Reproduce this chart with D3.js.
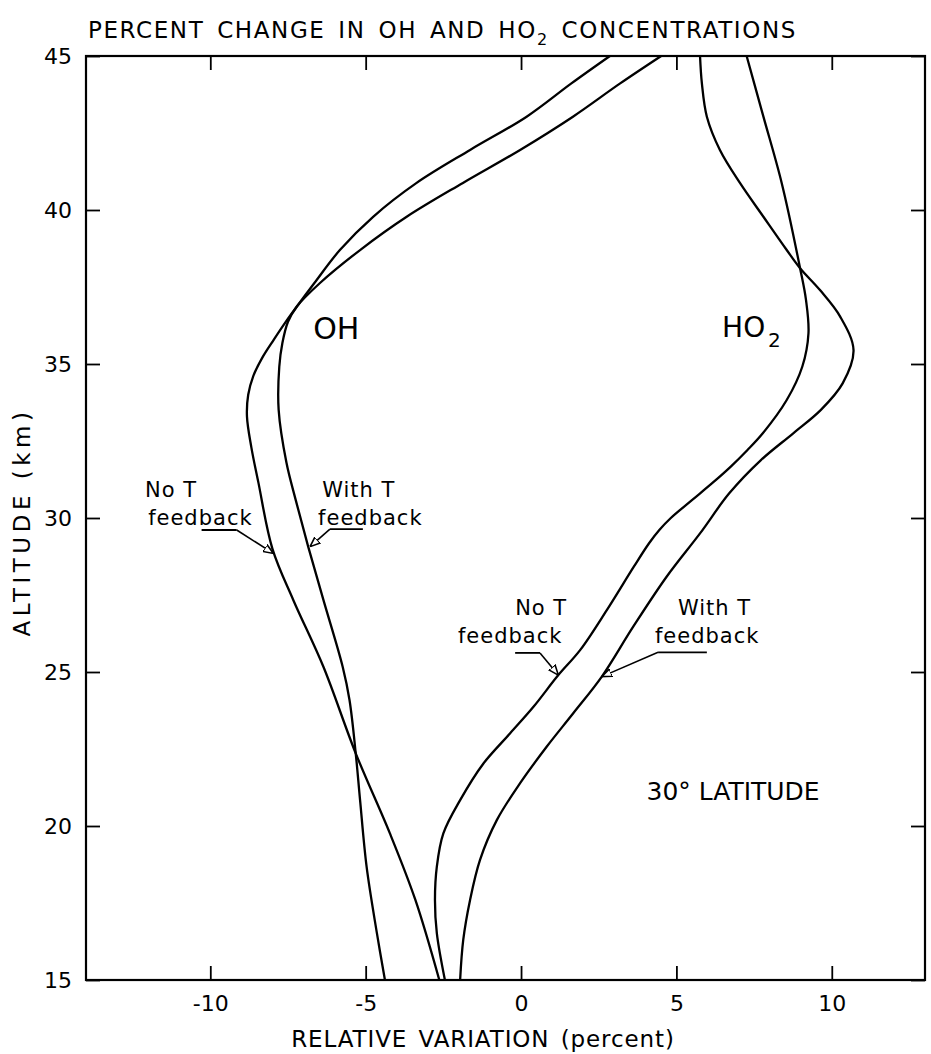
<!DOCTYPE html>
<html>
<head>
<meta charset="utf-8">
<script src="https://cdn.jsdelivr.net/npm/d3@7"></script>
<style>
  body { margin: 0; background: #fff; }
  text { font-family: "DejaVu Sans", sans-serif; fill: #000; }
</style>
</head>
<body>
<script>
// tick values
var altTicks = [15, 20, 25, 30, 35, 40, 45];
var varTicks = [-10, -5, 0, 5, 10];

// [altitude km, relative variation %]
var ohNoT = [[15, -2.63], [17.6, -3.40], [19.76, -4.22], [22.36, -5.32], [25.17, -6.36],
  [27.34, -7.33], [29.0, -8.00], [31.14, -8.45], [32.3, -8.68], [33.3, -8.82],
  [34.0, -8.78], [34.6, -8.62], [35.2, -8.33], [35.8, -7.95], [36.4, -7.55],
  [36.86, -7.22], [37.63, -6.65], [38.70, -5.83], [39.78, -4.76], [40.88, -3.36],
  [41.95, -1.64], [43.03, 0.18], [44.11, 1.62], [45, 2.86]];

var ohWithT = [[15, -4.38], [16.53, -4.64], [18.68, -4.97], [20.84, -5.18], [22.36, -5.32],
  [24.09, -5.52], [25.17, -5.74], [27.34, -6.36], [29.07, -6.85], [30.58, -7.25],
  [31.8, -7.55], [33.51, -7.80], [34.91, -7.78], [35.68, -7.68], [36.37, -7.50],
  [36.86, -7.22], [37.63, -6.47], [38.70, -5.18], [39.78, -3.68], [40.88, -1.87],
  [41.95, -0.03], [43.03, 1.67], [44.11, 3.19], [45, 4.51]];

var ho2NoT = [[15, -2.45], [16.52, -2.71], [17.6, -2.77], [18.68, -2.71], [19.76, -2.50],
  [20.84, -1.96], [22.03, -1.21], [23.01, -0.35], [23.87, 0.40], [24.9, 1.20],
  [25.71, 1.90], [27.01, 2.76], [28.42, 3.63], [29.18, 4.12], [29.61, 4.45],
  [30.0, 4.82], [30.58, 5.50], [31.13, 6.15], [31.67, 6.75], [32.2, 7.28],
  [32.75, 7.78], [33.83, 8.55], [34.91, 9.05], [36.0, 9.25], [37.08, 9.17],
  [38.11, 8.98], [40.87, 8.39], [43.03, 7.80], [45, 7.26]];

var ho2WithT = [[15, -1.96], [16.3, -1.86], [17.6, -1.64], [18.9, -1.32], [20.19, -0.78],
  [21.39, -0.03], [22.58, 0.83], [23.66, 1.68], [24.85, 2.60], [26.47, 3.61],
  [28.1, 4.69], [29.5, 5.76], [30.8, 6.70], [31.88, 7.72], [32.75, 8.76],
  [33.51, 9.65], [34.37, 10.35], [35.45, 10.70], [36.54, 10.27], [37.40, 9.62],
  [38.11, 8.98], [38.70, 8.55], [39.78, 7.80], [40.87, 7.05], [41.95, 6.40],
  [43.03, 5.98], [44.11, 5.82], [45, 5.76]];

var WIDTH = 931, HEIGHT = 1054;
var LEFT = 86, RIGHT = 925, TOP = 56, BOTTOM = 980;

var xScale = d3.scaleLinear().domain([-14, 13]).range([LEFT, RIGHT]);
var yScale = d3.scaleLinear().domain([15, 45]).range([BOTTOM, TOP]);

var svg = d3.select("body").append("svg")
  .attr("width", WIDTH)
  .attr("height", HEIGHT);

// open arrow head for the labels
svg.append("defs").append("marker")
  .attr("id", "arr")
  .attr("viewBox", "0 0 10 10")
  .attr("refX", 10).attr("refY", 5)
  .attr("markerWidth", 10).attr("markerHeight", 10)
  .attr("markerUnits", "userSpaceOnUse")
  .attr("orient", "auto")
  .append("path")
  .attr("d", "M0,1 L10,5 L0,9 Z")
  .attr("fill", "#fff")
  .attr("stroke", "#000")
  .attr("stroke-width", 1.6);

// title
var title = svg.append("text")
  .attr("x", 88).attr("y", 38)
  .attr("font-size", 23)
  .attr("letter-spacing", 1.6)
  .attr("word-spacing", 4);
title.append("tspan").text("PERCENT CHANGE IN OH AND HO");
title.append("tspan").attr("dy", 7).attr("font-size", 16).text("2");
title.append("tspan").attr("dy", -7).text(" CONCENTRATIONS");

// axes, ticks pointing inward
function axisStyle(g) {
  g.select(".domain").remove();
  g.selectAll(".tick line").attr("stroke", "#000").attr("stroke-width", 1.8);
  g.selectAll(".tick text").attr("font-size", 22).attr("font-family", "DejaVu Sans, sans-serif");
}

svg.append("g")
  .attr("transform", `translate(${LEFT},0)`)
  .call(d3.axisLeft(yScale).tickValues(altTicks).tickSize(-14).tickPadding(14).tickFormat(d => d))
  .call(axisStyle);

svg.append("g")
  .attr("transform", `translate(${RIGHT},0)`)
  .call(d3.axisRight(yScale).tickValues(altTicks).tickSize(-14).tickFormat(""))
  .call(axisStyle);

svg.append("g")
  .attr("transform", `translate(0,${BOTTOM})`)
  .call(d3.axisBottom(xScale).tickValues(varTicks).tickSize(-14).tickPadding(15).tickFormat(d => String(d)))
  .call(axisStyle);

svg.append("g")
  .attr("transform", `translate(0,${TOP})`)
  .call(d3.axisTop(xScale).tickValues(varTicks).tickSize(-14).tickFormat(""))
  .call(axisStyle);

// frame
svg.append("rect")
  .attr("x", LEFT).attr("y", TOP)
  .attr("width", RIGHT - LEFT).attr("height", BOTTOM - TOP)
  .attr("fill", "none").attr("stroke", "#000").attr("stroke-width", 2.2);

// axis titles
svg.append("text")
  .attr("transform", "translate(30,522) rotate(-90)")
  .attr("text-anchor", "middle")
  .attr("font-size", 23)
  .attr("letter-spacing", 4.5)
  .text("ALTITUDE (km)");

svg.append("text")
  .attr("x", 483).attr("y", 1047)
  .attr("text-anchor", "middle")
  .attr("font-size", 23)
  .attr("letter-spacing", 0.9)
  .attr("word-spacing", 3)
  .text("RELATIVE VARIATION (percent)");

// profiles
var line = d3.line()
  .x(d => xScale(d[1]))
  .y(d => yScale(d[0]))
  .curve(d3.curveCatmullRom.alpha(0.5));

svg.selectAll("path.profile")
  .data([ohNoT, ohWithT, ho2NoT, ho2WithT])
  .enter()
  .append("path")
  .attr("class", "profile")
  .attr("d", line)
  .attr("fill", "none")
  .attr("stroke", "#000")
  .attr("stroke-width", 2.3);

// species labels
svg.append("text")
  .attr("x", xScale(-6.69)).attr("y", yScale(35.81))
  .attr("font-size", 30)
  .text("OH");

svg.append("text")
  .attr("x", xScale(6.47)).attr("y", yScale(35.88))
  .attr("font-size", 28)
  .text("HO");
svg.append("text")
  .attr("x", xScale(6.47) + 46).attr("y", yScale(35.88) + 10)
  .attr("font-size", 20)
  .text("2");

svg.append("text")
  .attr("x", xScale(4.04)).attr("y", yScale(20.84))
  .attr("font-size", 24)
  .attr("textLength", 173).attr("lengthAdjust", "spacingAndGlyphs")
  .text("30° LATITUDE");

// "No T / With T feedback" labels with underline and arrow
function feedbackLabel(first, firstV, secondV, baseAlt, ul, ulAlt, fromV, tipV, tipAlt) {
  svg.append("text")
    .attr("x", xScale(firstV)).attr("y", yScale(baseAlt))
    .attr("font-size", 21).attr("letter-spacing", 1)
    .text(first);
  svg.append("text")
    .attr("x", xScale(secondV)).attr("y", yScale(baseAlt - 0.91))
    .attr("font-size", 21).attr("letter-spacing", 1)
    .text("feedback");
  svg.append("line")
    .attr("x1", xScale(ul[0])).attr("x2", xScale(ul[1]))
    .attr("y1", yScale(ulAlt)).attr("y2", yScale(ulAlt))
    .attr("stroke", "#000").attr("stroke-width", 1.8);
  svg.append("line")
    .attr("x1", xScale(fromV)).attr("y1", yScale(ulAlt))
    .attr("x2", xScale(tipV)).attr("y2", yScale(tipAlt))
    .attr("stroke", "#000").attr("stroke-width", 1.6)
    .attr("marker-end", "url(#arr)");
}

feedbackLabel("No T", -12.1, -12.0, 30.68, [-10.28, -9.15], 29.61, -9.15, -7.97, 28.85);
feedbackLabel("With T", -6.40, -6.53, 30.68, [-6.15, -5.09], 29.64, -6.15, -6.79, 29.07);
feedbackLabel("No T", -0.19, -2.03, 26.85, [-0.19, 0.61], 25.62, 0.61, 1.20, 24.9);
feedbackLabel("With T", 5.05, 4.31, 26.85, [4.41, 5.98], 25.64, 4.41, 2.60, 24.85);
</script>
</body>
</html>
